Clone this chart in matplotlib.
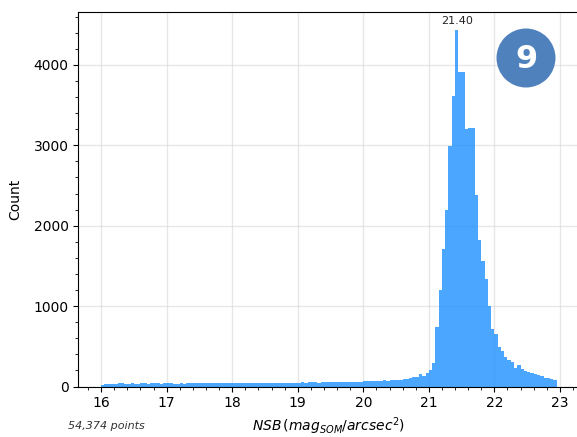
import numpy as np
import matplotlib
matplotlib.use("Agg")
import matplotlib.pyplot as plt
from matplotlib.ticker import MultipleLocator
from matplotlib.patches import Ellipse

# ---- data ----
bin_start = 16.0
bin_width = 0.05
counts_16_20 = [
    22, 28, 30, 36, 32, 42, 38, 30, 34, 40, 36, 35, 38, 42, 36, 38, 40, 42, 36, 38,
    42, 40, 36, 37, 38, 36, 42, 43, 40, 42, 44, 40, 42, 43, 42, 44, 41, 43, 40, 38,
    42, 44, 40, 42, 38, 42, 44, 45, 40, 38, 42, 44, 43, 45, 44, 46, 45, 47, 46, 48,
    46, 62, 48, 55, 50, 52, 48, 54, 50, 52, 53, 50, 55, 56, 52, 58, 55, 56, 60, 55,
]
counts_20_21 = [
    68, 65, 63, 65, 72, 70, 78, 72, 75, 78, 80, 85, 90, 95, 100, 113, 115, 150, 130, 165,
]
counts_21_23 = [
    200, 289, 740, 1195, 1715, 2190, 2990, 3611, 4436, 3910, 3910, 3205, 3210, 3215,
    2380, 1820, 1558, 1340, 1005, 712, 648, 492, 446, 365, 335, 309, 224, 266, 216,
    197, 182, 168, 155, 145, 125, 110, 102, 95, 75,
]
n_points_label = "54,374 points"
badge_label = "9"

counts = np.array(counts_16_20 + counts_20_21 + counts_21_23, dtype=float)
edges = bin_start + bin_width * np.arange(len(counts) + 1)

W, H = 577, 437
fig = plt.figure(figsize=(W / 100, H / 100), dpi=100)
ax = fig.add_axes([78.4 / W, (H - 386.5) / H, 501 / W, 374.5 / H])
ax.set_axisbelow(True)
ax.grid(True, which="major", color="#dddddd", alpha=0.7, linewidth=1.0)
ax.spines["right"].set_visible(False)

ax.hist(edges[:-1], bins=edges, weights=counts, color="dodgerblue", alpha=0.8,
        edgecolor="none", linewidth=0)

ax.xaxis.set_major_locator(MultipleLocator(1))
ax.xaxis.set_minor_locator(MultipleLocator(0.2))
ax.yaxis.set_major_locator(MultipleLocator(1000))
ax.yaxis.set_minor_locator(MultipleLocator(200))
ax.tick_params(axis="both", which="major", labelsize=10)

ax.set_xlabel(r"$NSB\,(mag_{SOM}/arcsec^2)$", fontsize=10, labelpad=4)
ax.set_ylabel("Count", fontsize=10, labelpad=8)

# peak label
i = int(np.argmax(counts))
ax.annotate(f"{edges[i]:.2f}", xy=((edges[i] + edges[i + 1]) / 2, counts[i]),
            xytext=(0, 3), textcoords="offset points", ha="center", va="bottom",
            fontsize=8, color="#222222")

fig.text(68 / W, 1 - 426 / H, n_points_label, fontsize=8, style="italic",
         color="#333333", ha="left", va="center")

# badge
cx, cy, r = 526, 58, 29.5
circ = Ellipse((cx / W, 1 - cy / H), 2 * r / W, 2 * r / H, transform=fig.transFigure,
               facecolor="#4f81bd", edgecolor="none", zorder=10)
fig.patches.append(circ)
fig.text(cx / W, 1 - (cy + 1) / H, badge_label, fontsize=23, fontweight="bold",
         color="white", ha="center", va="center", zorder=11)

fig.savefig("out.png", dpi=100)
